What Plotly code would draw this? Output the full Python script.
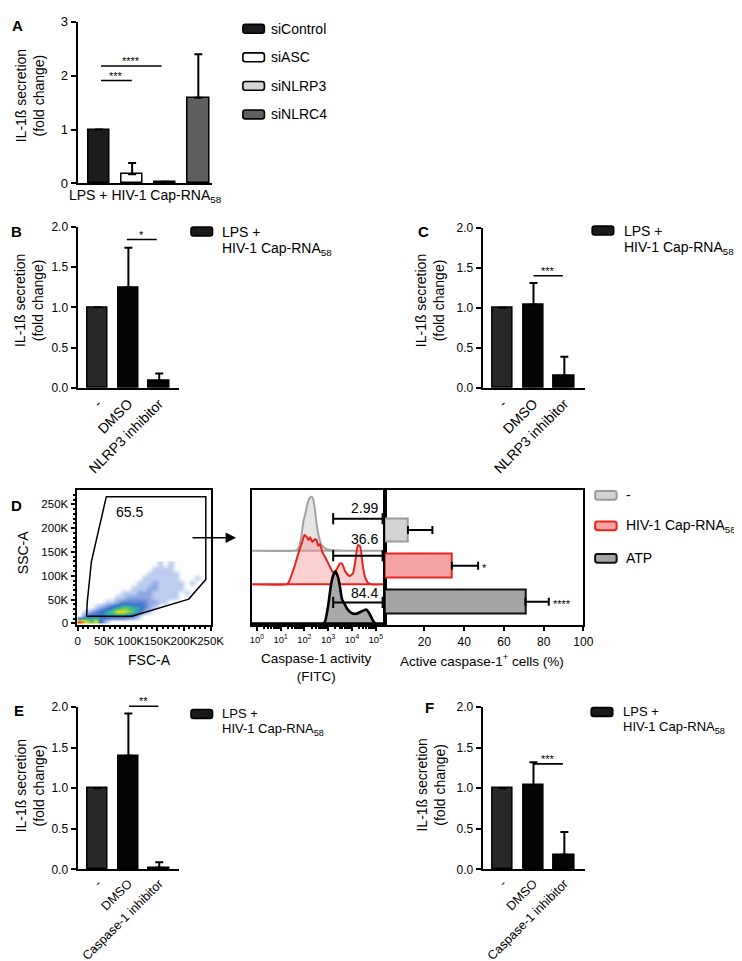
import plotly.graph_objects as go

W, H = 742, 961
FONT = "Liberation Sans, Arial, Helvetica, sans-serif"


def X(p):
    return p / W


def Y(p):
    return 1 - p / H


# ---------------------------------------------------------------- data
# Panel A
a_groups = ["siControl", "siASC", "siNLRP3", "siNLRC4"]
a_values = [1.00, 0.17, 0.03, 1.59]
a_err_top = [None, 0.38, None, 2.40]
a_fill = ["#1c1c1c", "#ffffff", "#d4d4d4", "#5f5f5f"]
a_xtitle = "LPS + HIV-1 Cap-RNA<sub>58</sub>"
a_yticks = [0, 1, 2, 3]
a_sig = [("****", 0.06, 1.89, 2.18), ("***", 0.06, 0.99, 1.91)]

# Panels B, C
nlrp3_labels = ["-", "DMSO", "NLRP3 inhibitor"]
b_values = [1.00, 1.25, 0.09]
b_err_top = [None, 1.74, 0.18]
b_sig = [("*", 0.95, 1.92, 1.84)]
c_values = [1.00, 1.04, 0.15]
c_err_top = [None, 1.31, 0.39]
c_sig = [("***", 1.00, 1.95, 1.40)]

# Panels E, F
casp_labels = ["-", "DMSO", "Caspase-1 inhibitor"]
e_values = [1.00, 1.40, 0.02]
e_err_top = [None, 1.92, 0.09]
e_sig = [("**", 1.02, 1.97, 2.01)]
f_values = [1.00, 1.04, 0.18]
f_err_top = [None, 1.32, 0.46]
f_sig = [("***", 1.00, 1.95, 1.30)]

treat_fill = ["#282828", "#050505", "#050505"]
fold_yticks = [0.0, 0.5, 1.0, 1.5, 2.0]
series_line1 = "LPS +"
series_line2 = "HIV-1 Cap-RNA<sub>58</sub>"

# Panel D (left): FSC-A / SSC-A pseudocolour density, level 0-9 per 10K x 10K bin
dens_bin = 10000
dens_ncols = 25
dens_rows = [
    "986831",
    "034445555431",
    "01234568876421",
    "000123456655321",
    "00000112333332211",
    "0000000112222211111",
    "000000001112221111101",
    "00000000001112211111",
    "0000000000011121111101",
    "00000000000011111110001",
    "0000000000000111111",
    "000000000000001111",
    "000000000000000101",
]
dens_colors = ["#ffffff", "#bccdef", "#8ea9e2", "#5a83d2", "#3a72c6", "#2ea7b5",
               "#4cbf6e", "#a6d23a", "#f0d41e", "#e8401c"]
gate_fsc = [17e3, 18e3, 26e3, 54e3, 241e3, 241e3, 209e3, 102e3, 17e3]
gate_ssc = [15e3, 43e3, 130e3, 266e3, 266e3, 92e3, 51e3, 15e3, 15e3]
gate_pct = "65.5"
scatter_ticks = [0, 50000, 100000, 150000, 200000, 250000]
scatter_ticktext = ["0", "50K", "100K", "150K", "200K", "250K"]

# Panel D (middle): caspase-1 (FITC) histograms, log10 position and height
hist_gray_log = [-0.3, 1.55, 1.68, 1.75, 1.85, 1.96, 2.06, 2.14, 2.23, 2.31, 2.36,
                 2.42, 2.51, 2.61, 2.72, 2.93, 3.28, 3.7, 5.5]
hist_gray_h = [0, 0, 1, 2.7, 12, 30, 40, 49, 54, 55, 53, 46, 28, 14, 6, 1.7, 0.5, 0, 0]
hist_red_log = [-0.3, 1.25, 1.33, 1.54, 1.75, 1.89, 2.0, 2.10, 2.17, 2.24, 2.33, 2.44,
                2.51, 2.58, 2.65, 2.75, 2.89, 3.07, 3.21, 3.35, 3.49, 3.58, 3.72, 3.90,
                4.04, 4.14, 4.25, 4.35, 4.46, 4.56, 4.67, 4.81, 5.5]
hist_red_h = [0, 0, 1.7, 15, 31.7, 41.7, 50, 48, 45, 47.7, 43, 45.7, 45, 39, 41, 33,
              26.7, 18, 12, 15, 21, 21, 13, 8.3, 11, 23, 40, 38, 18, 6.7, 1.7, 0, 0]
hist_black_log = [-0.3, 2.75, 2.86, 3.0, 3.11, 3.21, 3.31, 3.42, 3.49, 3.58, 3.69,
                  3.8, 3.97, 4.18, 4.39, 4.6, 4.74, 4.88, 5.01, 5.5]
hist_black_h = [0, 0, 1.7, 18.3, 38.3, 49, 53, 46.7, 38.3, 25, 20, 15, 11, 10, 12.3,
                14.3, 10, 3.3, 0, 0]
gate_lo_log, gate_hi_log = 3.21, 5.29
gate_pcts = ["2.99", "36.6", "84.4"]
fitc_ticks = [1, 10, 100, 1000, 10000, 100000]
fitc_ticktext = ["10<sup>0</sup>", "10<sup>1</sup>", "10<sup>2</sup>",
                 "10<sup>3</sup>", "10<sup>4</sup>", "10<sup>5</sup>"]

# Panel D (right): active caspase-1+ cells (%)
d_conditions = ["-", "HIV-1 Cap-RNA<sub>58</sub>", "ATP"]
d_values = [11.7, 33.8, 70.8]
d_err_top = [24.0, 47.0, 82.6]
d_sig = ["", "*", "****"]
d_fill = ["#d3d3d3", "#f5a3a3", "#a5a5a5"]
d_line = ["#9b9b9b", "#e8261f", "#111111"]
pct_ticks = [20, 40, 60, 80, 100]

# ---------------------------------------------------------------- figure
fig = go.Figure()
annotations = []
shapes = []


def txt(t, x, y, size, xanchor="center", yanchor="middle", angle=0, bold=False):
    annotations.append(dict(
        text=f"<b>{t}</b>" if bold else t, x=X(x), y=Y(y), xref="paper", yref="paper",
        xanchor=xanchor, yanchor=yanchor, textangle=angle, showarrow=False,
        font=dict(family=FONT, size=size, color="black")))


def swatch(x0, x1, yc, fill, line, h=9, r=2.5, lw=1.6):
    y0, y1 = yc - h / 2, yc + h / 2
    p = (f"M{X(x0 + r)},{Y(y0)} L{X(x1 - r)},{Y(y0)} Q{X(x1)},{Y(y0)} {X(x1)},{Y(y0 + r)} "
         f"L{X(x1)},{Y(y1 - r)} Q{X(x1)},{Y(y1)} {X(x1 - r)},{Y(y1)} L{X(x0 + r)},{Y(y1)} "
         f"Q{X(x0)},{Y(y1)} {X(x0)},{Y(y1 - r)} L{X(x0)},{Y(y0 + r)} Q{X(x0)},{Y(y0)} {X(x0 + r)},{Y(y0)} Z")
    shapes.append(dict(type="path", path=p, xref="paper", yref="paper",
                       fillcolor=fill, line=dict(color=line, width=lw)))


def fold_bars(xa, ya, values, err_top, fills, width):
    errs = [0 if e is None else e - v for v, e in zip(values, err_top)]
    fig.add_trace(go.Bar(
        x=list(range(len(values))), y=values, width=width,
        marker=dict(color=fills, line=dict(color="black", width=1.5)),
        error_y=dict(type="data", symmetric=False, array=errs,
                     arrayminus=[0] * len(values), color="black", thickness=2, width=4),
        xaxis=xa, yaxis=ya, showlegend=False, hoverinfo="skip"))


def sig_marks(xa, ya, sig, size=11):
    for stars, x0, x1, yv in sig:
        fig.add_trace(go.Scatter(
            x=[x0, x1], y=[yv, yv], mode="lines", line=dict(color="black", width=1.6),
            xaxis=xa, yaxis=ya, cliponaxis=False, showlegend=False, hoverinfo="skip"))
        annotations.append(dict(
            text=stars, x=(x0 + x1) / 2, y=yv, xref=xa, yref=ya, yanchor="bottom",
            yshift=-3, showarrow=False, font=dict(family=FONT, size=size, color="black")))


# A
fold_bars("x", "y", a_values, a_err_top, a_fill, 0.65)
sig_marks("x", "y", a_sig)
# B, C, E, F
fold_bars("x2", "y2", b_values, b_err_top, treat_fill, 0.67)
sig_marks("x2", "y2", b_sig)
fold_bars("x3", "y3", c_values, c_err_top, treat_fill, 0.67)
sig_marks("x3", "y3", c_sig)
fold_bars("x7", "y7", e_values, e_err_top, treat_fill, 0.67)
sig_marks("x7", "y9", e_sig)   # same scale as y7, taller so the bar above 2.0 shows
fold_bars("x8", "y8", f_values, f_err_top, treat_fill, 0.67)
sig_marks("x8", "y8", f_sig)

# D left: density + gate
z = [[int(c) for c in row.ljust(dens_ncols, "0")] for row in dens_rows]
nlev = len(dens_colors) - 1
cs = [[i / nlev, c] for i, c in enumerate(dens_colors)]
fig.add_trace(go.Heatmap(
    z=z, x0=dens_bin / 2, dx=dens_bin, y0=dens_bin / 2, dy=dens_bin,
    zmin=0, zmax=nlev, colorscale=cs, showscale=False, zsmooth="best",
    xaxis="x4", yaxis="y4", hoverinfo="skip"))
fig.add_trace(go.Scatter(
    x=gate_fsc, y=gate_ssc, mode="lines", line=dict(color="black", width=1.5),
    xaxis="x4", yaxis="y4", showlegend=False, hoverinfo="skip"))

# D middle: stacked histograms
hist_specs = [
    (hist_gray_log, hist_gray_h, 75.7, "#a3a3a3", "rgba(225,225,225,0.85)", 2.0, 32.6),
    (hist_red_log, hist_red_h, 41.7, "#e8231c", "rgba(245,150,150,0.45)", 2.0, 29.0),
    (hist_black_log, hist_black_h, 1.7, "#000000", "#a9a9a9", 2.6, 21.6),
]
for logs, hs, base, lc, fc, lw, gate_off in hist_specs:
    xs = [10 ** v for v in logs]
    ys = [base + h for h in hs]
    fig.add_trace(go.Scatter(
        x=xs + [xs[-1], xs[0]], y=ys + [base, base], mode="lines", fill="toself",
        fillcolor=fc, line=dict(color=lc, width=lw, shape="spline", smoothing=0.5),
        xaxis="x5", yaxis="y5", showlegend=False, hoverinfo="skip"))
for logs, hs, base, lc, fc, lw, gate_off in hist_specs:
    fig.add_trace(go.Scatter(
        x=[10 ** gate_lo_log, 10 ** gate_hi_log], y=[base + gate_off] * 2,
        mode="lines+markers", line=dict(color="black", width=2),
        marker=dict(symbol="line-ns", size=8, line=dict(color="black", width=2)),
        xaxis="x5", yaxis="y5", showlegend=False, hoverinfo="skip", cliponaxis=False))

# D right: horizontal bars
d_pos = [2, 1, 0]
fig.add_trace(go.Bar(
    x=d_values, y=d_pos, orientation="h", width=0.66,
    marker=dict(color=d_fill, line=dict(color=d_line, width=2)),
    error_x=dict(type="data", symmetric=False,
                 array=[e - v for v, e in zip(d_values, d_err_top)],
                 arrayminus=[0, 0, 0], color="black", thickness=2, width=4),
    xaxis="x6", yaxis="y6", showlegend=False, hoverinfo="skip"))
for s, e, p in zip(d_sig, d_err_top, d_pos):
    if s:
        annotations.append(dict(text=s, x=e + 1.2, y=p, xref="x6", yref="y6",
                                xanchor="left", yanchor="middle", yshift=-2, showarrow=False,
                                font=dict(family=FONT, size=11, color="black")))

# ---------------------------------------------------------------- axes
def tf(size):
    return dict(family=FONT, size=size, color="black")


base_ax = dict(showgrid=False, zeroline=False, showline=True, linewidth=2,
               linecolor="black", fixedrange=True)


def fold_x(x0, x1, rng, labels, anchor, show=True, size=14):
    return dict(base_ax, domain=[X(x0), X(x1)], range=rng, anchor=anchor, ticks="",
                tickmode="array", tickvals=list(range(len(labels))), ticktext=labels,
                tickangle=-45, tickfont=tf(size), showticklabels=show)


def fold_y(ytop, ybot, rng, ticks, fmt, size, anchor):
    return dict(base_ax, domain=[Y(ybot), Y(ytop)], range=rng, anchor=anchor,
                ticks="outside", ticklen=5, tickwidth=2, tickcolor="black",
                tickmode="array", tickvals=ticks, tickformat=fmt, tickfont=tf(size))


# E significance axis: same px-per-unit as yaxis7 (868 -> 0, 703 -> 2.0) but taller
e_unit_px = (868 - 703) / 2.0
e_sig_top_px = 688

layout_axes = dict(
    xaxis=fold_x(69, 206, [-0.65, 3.40], a_groups, "y", show=False),
    yaxis=fold_y(7, 171, [0, 3], a_yticks, "d", 13, "x"),
    xaxis2=fold_x(69, 173, [-0.65, 2.65], nlrp3_labels, "y2"),
    yaxis2=fold_y(215, 379, [0, 2], fold_yticks, ".1f", 12, "x2"),
    xaxis3=fold_x(483, 588, [-0.65, 2.68], nlrp3_labels, "y3"),
    yaxis3=fold_y(216, 379, [0, 2], fold_yticks, ".1f", 12, "x3"),
    xaxis7=fold_x(69, 173, [-0.65, 2.65], casp_labels, "y7", size=12.5),
    yaxis7=fold_y(703, 868, [0, 2], fold_yticks, ".1f", 12, "x7"),
    yaxis9=dict(domain=[Y(868), Y(e_sig_top_px)], range=[0, (868 - e_sig_top_px) / e_unit_px],
                anchor="x7", visible=False, fixedrange=True),
    xaxis8=fold_x(483, 588, [-0.65, 2.68], casp_labels, "y8", size=12.5),
    yaxis8=fold_y(703, 868, [0, 2], fold_yticks, ".1f", 12, "x8"),
    xaxis4=dict(base_ax, domain=[X(68), X(205)], range=[-2000, 250000], anchor="y4",
                mirror=True, ticks="outside", ticklen=4, tickwidth=1.5, tickcolor="black",
                tickmode="array", tickvals=scatter_ticks, ticktext=scatter_ticktext,
                tickangle=0, tickfont=tf(11.5),
                minor=dict(ticks="outside", ticklen=2, tickcolor="black", dtick=10000)),
    yaxis4=dict(base_ax, domain=[Y(620), Y(483)], range=[-4000, 279000], anchor="x4",
                mirror=True, ticks="outside", ticklen=4, tickwidth=1.5, tickcolor="black",
                tickmode="array", tickvals=scatter_ticks, ticktext=scatter_ticktext,
                tickfont=tf(11.5),
                minor=dict(ticks="outside", ticklen=2, tickcolor="black", dtick=10000)),
    xaxis5=dict(base_ax, type="log", domain=[X(247), X(383)], range=[-0.22, 5.38],
                anchor="y5", mirror=True, ticks="outside", ticklen=4, tickwidth=1.5,
                tickcolor="black", tickmode="array", tickvals=fitc_ticks,
                ticktext=fitc_ticktext, tickangle=0, tickfont=tf(9.5),
                minor=dict(ticks="outside", ticklen=2, tickcolor="black", tickmode="array",
                           tickvals=[m * 10 ** d for d in range(0, 5) for m in range(2, 10)])),
    yaxis5=dict(base_ax, domain=[Y(620), Y(483)], range=[0, 137], anchor="x5",
                mirror=True, ticks="", showticklabels=False),
    xaxis6=dict(base_ax, domain=[X(383), X(586)], range=[0, 100], anchor="y6",
                mirror=True, ticks="outside", ticklen=4, tickwidth=1.5, tickcolor="black",
                tickmode="array", tickvals=pct_ticks, tickangle=0, tickfont=tf(12)),
    yaxis6=dict(base_ax, domain=[Y(620), Y(483)], range=[-0.66, 3.10], anchor="x6",
                mirror=True, ticks="", showticklabels=False),
)

# ---------------------------------------------------------------- text & legends
fold_title = "IL-1ß secretion<br>(fold change)"
for letter, lx, ly in [("A", 8, 11), ("B", 7, 220), ("C", 423, 220),
                       ("D", 7, 498), ("E", 9, 707), ("F", 429, 703)]:
    txt(letter, lx, ly, 15, bold=True)
for tx, ty in [(20, 82), (20, 290), (430, 290), (20, 783), (430, 782)]:
    txt(fold_title, tx, ty, 14, angle=-90)
txt(a_xtitle, 138, 184, 14)

# legend A
for i, (g, fc) in enumerate(zip(a_groups, a_fill)):
    yc = 14 + 29 * i
    swatch(238, 260, yc, fc, "black")
    txt(g, 265, yc, 14, xanchor="left")

# legends B, C, E, F
for sx, ty, dy, fs in [(185, 220, 18, 14), (595, 219, 18, 14),
                       (185, 710, 16, 13), (594, 708, 16, 13)]:
    swatch(sx, sx + 22, ty, "#1a1a1a", "black")
    txt(series_line1, sx + 30, ty, fs, xanchor="left")
    txt(series_line2, sx + 30, ty + dy, fs, xanchor="left")

# legend D
for i, (cond, fc, lc) in enumerate(zip(d_conditions, d_fill, d_line)):
    yc = [488, 519, 552][i]
    swatch(598, 620, yc, fc, lc, lw=2)
    txt(cond, 628, yc, 14, xanchor="left")

# D texts
txt(gate_pct, 122, 505, 14)
for pct, py in zip(gate_pcts, [501, 532, 587]):
    txt(pct, 378, py, 14, xanchor="right")
txt("SSC-A", 14, 546, 14, angle=-90)
txt("FSC-A", 143, 655, 14)
txt("Caspase-1 activity<br>(FITC)", 313, 663, 13.5)
txt("Active caspase-1<sup>+</sup> cells (%)", 482, 655, 13.5)

annotations.append(dict(
    x=X(231), y=Y(531), ax=-45, ay=0, xref="paper", yref="paper",
    axref="pixel", ayref="pixel", text="", showarrow=True, arrowhead=2,
    arrowsize=1.3, arrowwidth=1.6, arrowcolor="black", standoff=0))

fig.update_layout(
    width=W, height=H, margin=dict(l=0, r=0, t=0, b=0),
    paper_bgcolor="white", plot_bgcolor="rgba(0,0,0,0)",
    font=dict(family=FONT, color="black"),
    showlegend=False, bargap=0,
    annotations=annotations, shapes=shapes,
    **layout_axes,
)

fig.write_html("out.html")
